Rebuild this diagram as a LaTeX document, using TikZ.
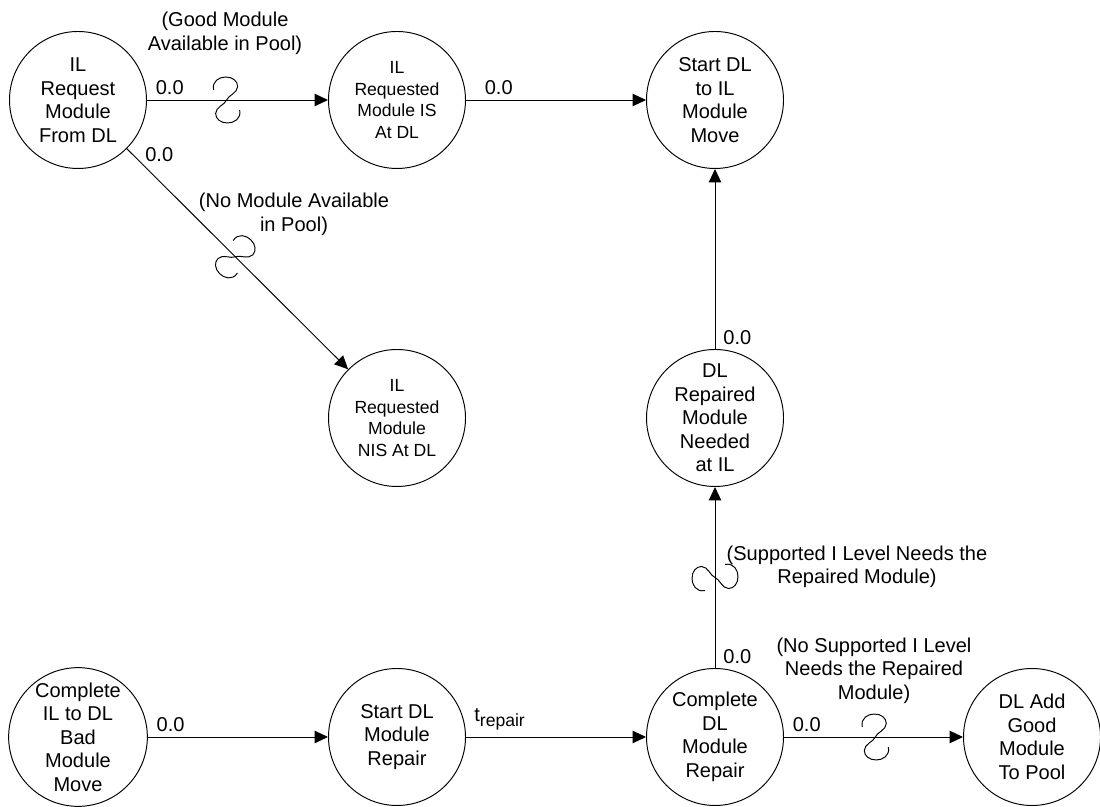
\documentclass[tikz,border=0pt]{standalone}
\usepackage{fontspec}
\setmainfont{Liberation Sans}
\usetikzlibrary{arrows.meta,positioning,calc}
\tikzset{
  state/.style={circle, draw=black, line width=0.55pt, minimum size=2.74cm, inner sep=0pt,
                align=center, font=\fontsize{11.4}{13.4}\selectfont},
  smalltext/.style={font=\fontsize{10}{12.3}\selectfont},
  lbl/.style={inner sep=0pt, align=center, font=\fontsize{11.4}{13.4}\selectfont},
  arr/.style={-{Triangle[length=0.27cm, width=0.25cm]}, line width=0.55pt, black},
  squig/.pic={\draw[line width=0.55pt] (-0.26,0.20) .. controls (-0.30,0.38) and (-0.14,0.46) .. (-0.02,0.46)
                .. controls (0.12,0.46) and (0.22,0.38) .. (0.22,0.27)
                .. controls (0.22,0.14) and (0.03,0.09) .. (0,0)
                .. controls (-0.03,-0.09) and (-0.22,-0.14) .. (-0.22,-0.27)
                .. controls (-0.22,-0.38) and (-0.12,-0.46) .. (0.02,-0.46)
                .. controls (0.14,-0.46) and (0.30,-0.38) .. (0.26,-0.20);},
}
\begin{document}
\begin{tikzpicture}[x=1cm, y=1cm]
\useasboundingbox (0,0) rectangle (22,16.14);
% top row
\node[state] (req) at (1.56,14.14) {IL\\Request\\Module\\From DL};
\node[state, smalltext] (is) at (7.94,14.14) {IL\\Requested\\Module IS\\At DL};
\node[state] (move) at (14.30,14.14) {Start DL\\to IL\\Module\\Move};
% middle row
\node[state, smalltext] (nis) at (7.94,7.78) {IL\\Requested\\Module\\NIS At DL};
\node[state] (need) at (14.30,7.78) {DL\\Repaired\\Module\\Needed\\at IL};
% bottom row
\node[state] (bad) at (1.56,1.40) {Complete\\IL to DL\\Bad\\Module\\Move};
\node[state] (rep) at (7.94,1.40) {Start DL\\Module\\Repair};
\node[state] (done) at (14.30,1.40) {Complete\\DL\\Module\\Repair};
\node[state] (pool) at (20.64,1.40) {DL Add\\Good\\Module\\To Pool};
% edges
\draw[arr] (req) -- coordinate[pos=0.44] (sq1) (is);
\draw[arr] (is) -- (move);
\draw[arr] (req) -- coordinate[pos=0.49] (sq2) (nis);
\draw[arr] (need) -- (move);
\draw[arr] (done) -- coordinate[pos=0.5] (sq3) (need);
\draw[arr] (bad) -- (rep);
\draw[arr] (rep) -- (done);
\draw[arr] (done) -- coordinate[pos=0.51] (sq4) (pool);
% condition marks
\pic at (sq1) {squig};
\pic[rotate=-45] at (sq2) {squig};
\pic[rotate=90] at (sq3) {squig};
\pic at (sq4) {squig};
% delays and conditions
\node[lbl, anchor=base west] (d1) at ($(req.east)+(0.17,0.10)$) {0.0};
\node[lbl] (cond1) at (4.50,15.47) {(Good Module\\Available in Pool)};
\node[lbl, anchor=base west] (d2) at ($(req)+(1.34,-1.24)$) {0.0};
\node[lbl] (cond2) at (5.88,11.85) {(No Module Available\\in Pool)};
\node[lbl, anchor=base west] (d3) at ($(is.east)+(0.37,0.10)$) {0.0};
\node[lbl, anchor=base west] (d4) at ($(need.north)+(0.16,0.10)$) {0.0};
\node[lbl] (cond3) at (17.14,4.80) {(Supported I Level Needs the\\Repaired Module)};
\node[lbl, anchor=base west] (d5) at ($(done.north)+(0.16,0.10)$) {0.0};
\node[lbl] (cond4) at (17.48,2.73) {(No Supported I Level\\Needs the Repaired\\Module)};
\node[lbl, anchor=base west] (d6) at ($(done.east)+(0.17,0.10)$) {0.0};
\node[lbl, anchor=base west] (d7) at ($(bad.east)+(0.17,0.10)$) {0.0};
\node[lbl, anchor=base west] (d8) at ($(rep.east)+(0.16,0.30)$) {t\raisebox{-2.5pt}{\fontsize{10}{10}\selectfont repair}};
\end{tikzpicture}
\end{document}
